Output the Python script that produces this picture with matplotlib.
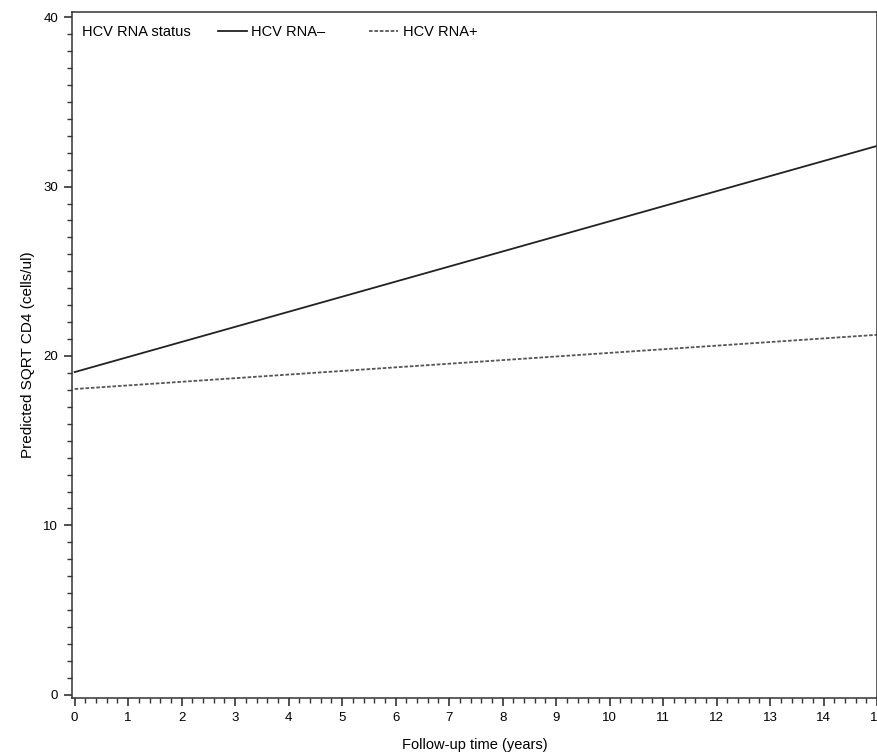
import matplotlib
matplotlib.use("Agg")
from matplotlib import pyplot as plt
from matplotlib.ticker import MultipleLocator
import numpy as np

plt.rcParams['font.family'] = ['Liberation Sans', 'DejaVu Sans']

# データ（線形予測）
years = [0, 15]
rna_neg = [19.05, 32.4]
rna_pos = [18.05, 21.25]
x_ticks = list(range(0, 16))
y_ticks = [0, 10, 20, 30, 40]

fig = plt.figure(figsize=(8.78, 7.54), dpi=100)
ax = fig.add_axes([0.082, 0.074, 0.917, 0.91])

ax.plot(years, rna_neg, color='#222222', lw=1.3, label='HCV RNA\u2013')
ax.plot(years, rna_pos, color='#555555', lw=1.3, ls=(0, (2, 1)), label='HCV RNA+')

ax.set_xlim(-0.05, 15)
ax.set_ylim(-0.2, 40.3)
ax.set_xticks(x_ticks)
ax.set_yticks(y_ticks)
ax.xaxis.set_minor_locator(MultipleLocator(0.2))
ax.yaxis.set_minor_locator(MultipleLocator(1))
ax.tick_params(which='major', length=6, width=1.2, labelsize=9.5, color='#333333', pad=4)
ax.tick_params(which='minor', length=3.5, width=1, color='#333333')
for s in ax.spines.values():
    s.set_linewidth(1.1)
    s.set_color('#333333')

ax.set_xlabel('Follow-up time (years)', fontsize=10.5, labelpad=10)
ax.set_ylabel('Predicted SQRT CD4 (cells/ul)', fontsize=11, labelpad=6)

ax.text(0.012, 0.971, 'HCV RNA status', transform=ax.transAxes, fontsize=10.5, va='center')
ax.legend(loc='center left', bbox_to_anchor=(0.181, 0.971), ncol=2, frameon=False,
          fontsize=10.5, handlelength=2.0, handletextpad=0.3, columnspacing=3.0,
          borderpad=0, borderaxespad=0)

plt.savefig('out.png', dpi=100)
